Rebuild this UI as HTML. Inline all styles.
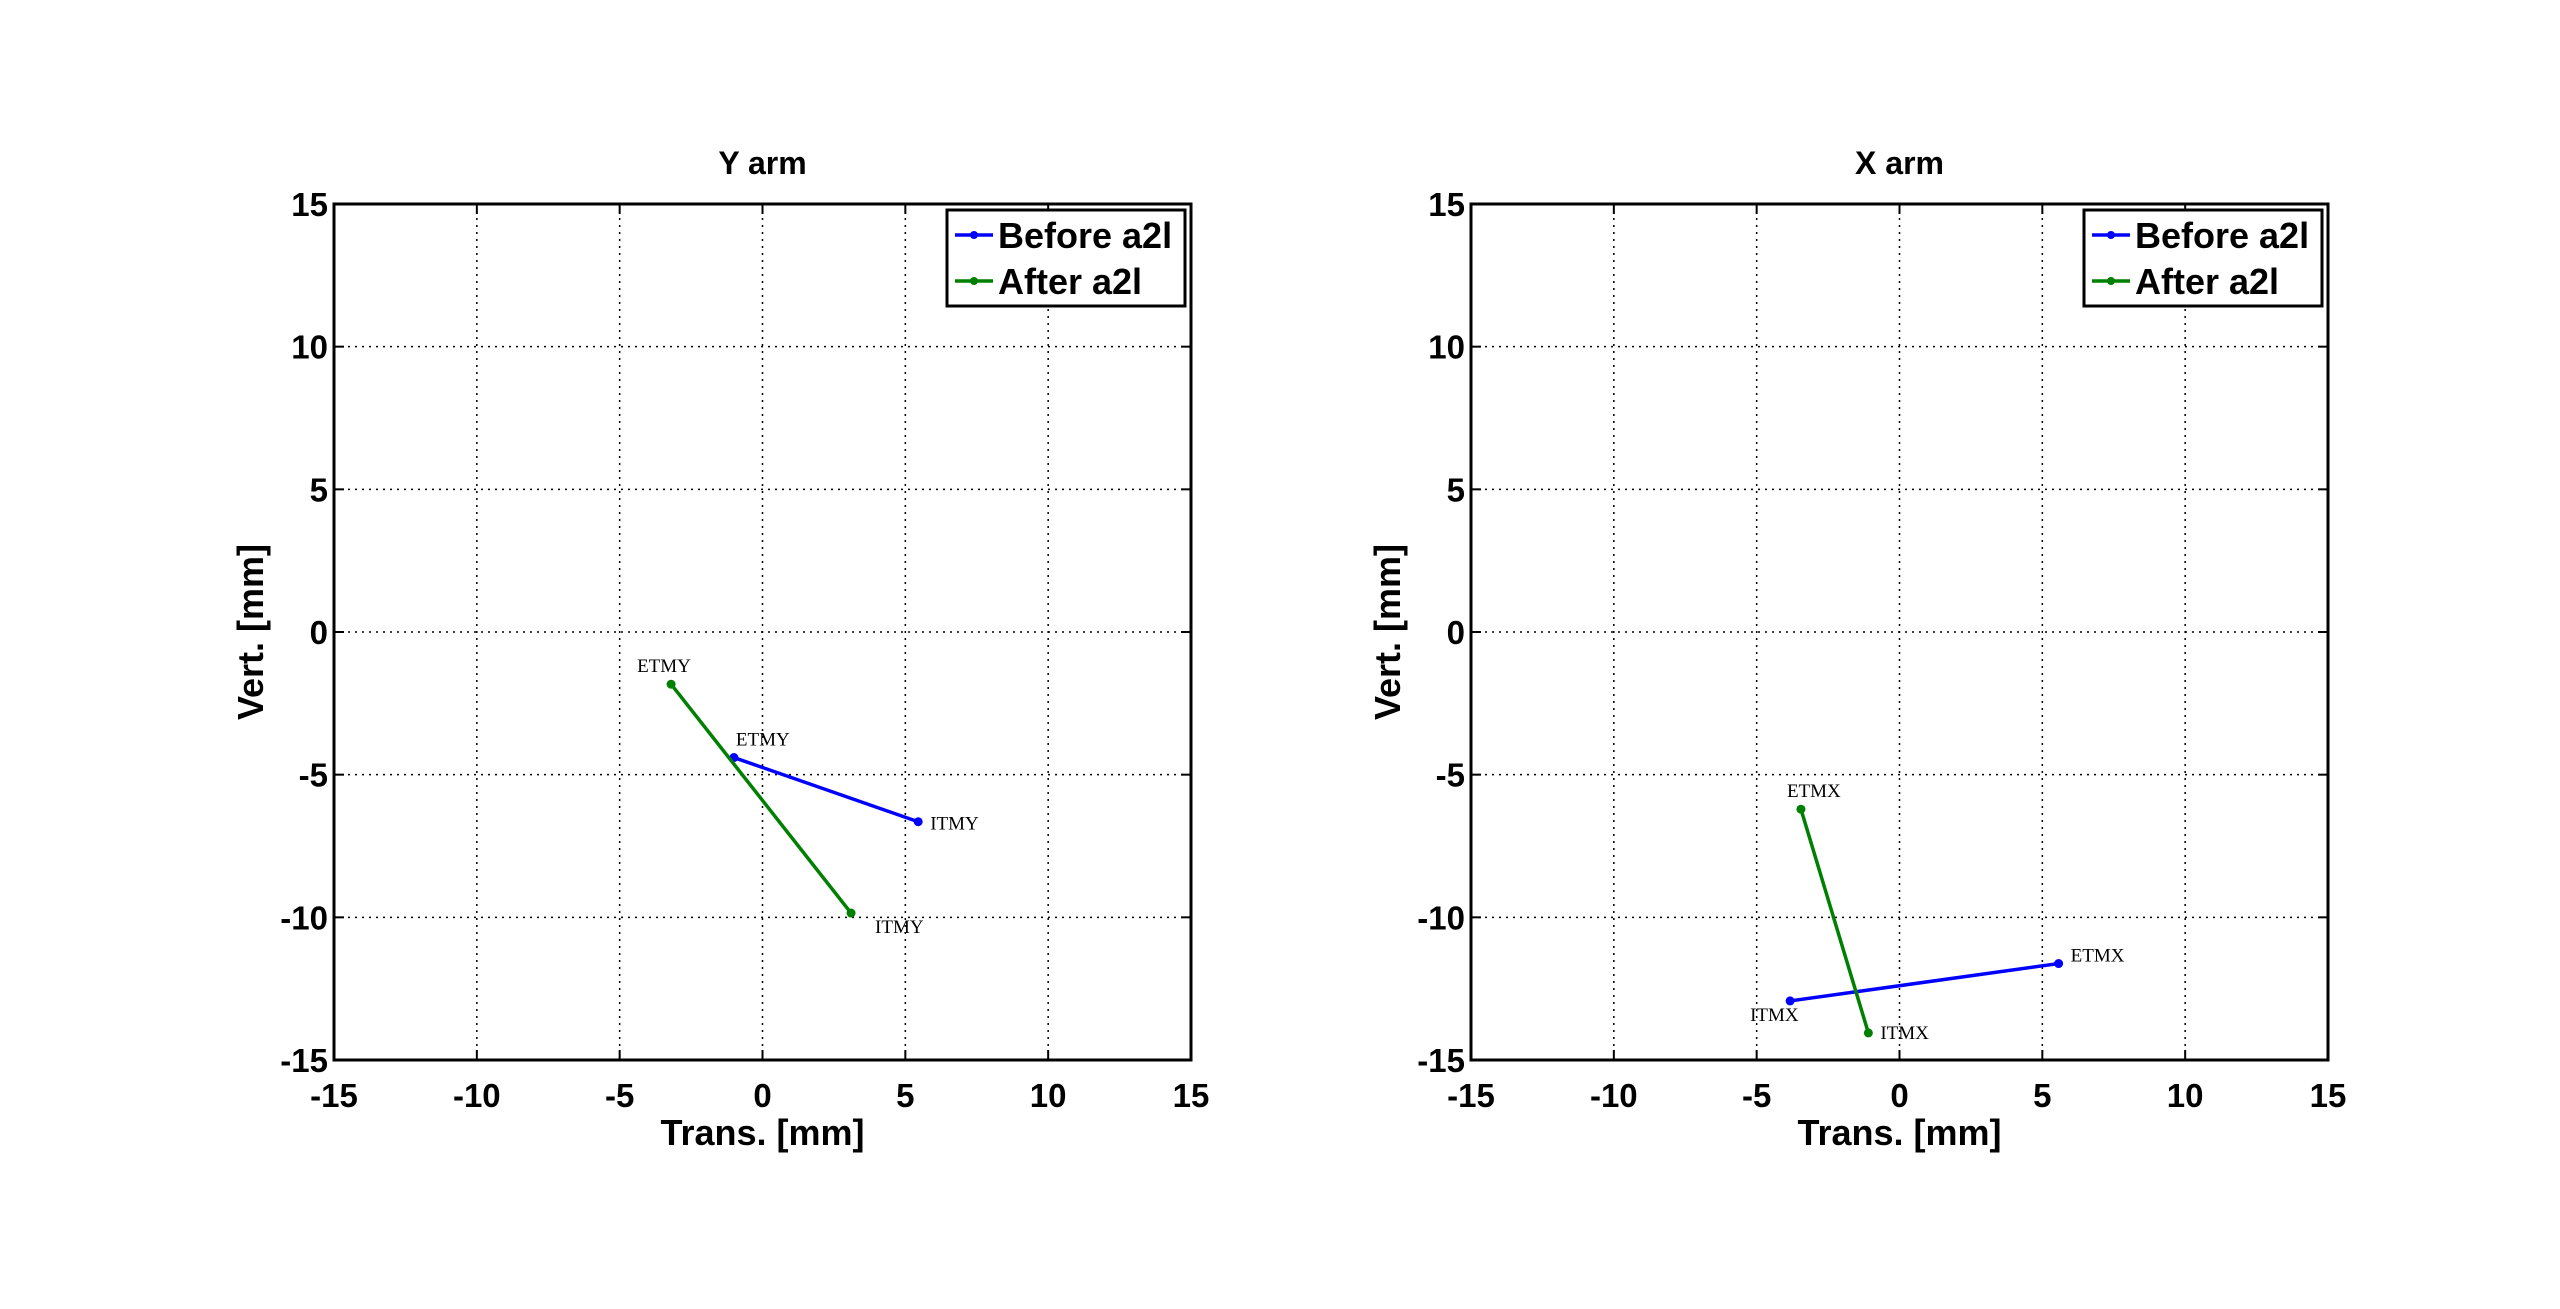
<!DOCTYPE html>
<html><head><meta charset="utf-8"><style>
html,body{margin:0;padding:0;background:#fff;}
svg{display:block;}
text{font-family:"Liberation Sans",sans-serif;}
</style></head><body>
<svg id="fig" width="2560" height="1309" viewBox="0 0 2560 1309" xmlns="http://www.w3.org/2000/svg">
<rect x="0" y="0" width="2560" height="1309" fill="#fff"/>
</svg>
<script>
// ---- data ----
const ticks = [-15, -10, -5, 0, 5, 10, 15];
const tickLabels = ["-15", "-10", "-5", "0", "5", "10", "15"];
const panelTitles = ["Y arm", "X arm"];
const seriesNames = ["Before a2l", "After a2l"];
// Y arm
const yBeforeX = [-1.0, 5.45];
const yBeforeY = [-4.4, -6.65];
const yBeforeLabels = ["ETMY", "ITMY"];
const yAfterX = [-3.2, 3.1];
const yAfterY = [-1.83, -9.85];
const yAfterLabels = ["ETMY", "ITMY"];
// X arm
const xBeforeX = [-3.83, 5.57];
const xBeforeY = [-12.93, -11.62];
const xBeforeLabels = ["ITMX", "ETMX"];
const xAfterX = [-3.45, -1.09];
const xAfterY = [-6.21, -14.05];
const xAfterLabels = ["ETMX", "ITMX"];

const NS = "http://www.w3.org/2000/svg";
const svg = document.getElementById('fig');
function mk(tag, attrs, parent) {
  const e = document.createElementNS(NS, tag);
  for (const k in attrs) e.setAttribute(k, attrs[k]);
  (parent || svg).appendChild(e);
  return e;
}
const colors = ["#0000ff", "#008000"];
// label offsets (styling)
const offs = [
  [[[2, -12], [12, 8]], [[-34, -12], [24, 20]]],
  [[[-40, 20], [12, -2]], [[-14, -12], [12, 6]]]
];
const panels = [
  {left: 334, arm: [[yBeforeX, yBeforeY, yBeforeLabels], [yAfterX, yAfterY, yAfterLabels]], key: "y-arm"},
  {left: 1471, arm: [[xBeforeX, xBeforeY, xBeforeLabels], [xAfterX, xAfterY, xAfterLabels]], key: "x-arm"}
];
const W = 857, TOP = 204, H = 857 - 0; // square-ish
const BOTTOM = 1060;
panels.forEach((p, pi) => {
  const L = p.left, R = L + W;
  const sx = v => L + (v + 15) / 30 * W;
  const sy = v => BOTTOM - (v + 15) / 30 * (BOTTOM - TOP);
  const g = mk('g', {});
  
  
  // grid
  ticks.forEach(t => {
    if (t > -15 && t < 15) {
      const gx = mk('line', {x1: sx(t), x2: sx(t), y1: TOP, y2: BOTTOM, stroke: '#000', 'stroke-width': 1.5, 'stroke-dasharray': '2,5'}, g);
      
      
      const gy = mk('line', {x1: L, x2: R, y1: sy(t), y2: sy(t), stroke: '#000', 'stroke-width': 1.5, 'stroke-dasharray': '2,5'}, g);
      
      
    }
  });
  // ticks and labels
  ticks.forEach((t, i) => {
    mk('line', {x1: sx(t), x2: sx(t), y1: BOTTOM, y2: BOTTOM - 10, stroke: '#000', 'stroke-width': 2}, g);
    mk('line', {x1: sx(t), x2: sx(t), y1: TOP, y2: TOP + 10, stroke: '#000', 'stroke-width': 2}, g);
    mk('line', {x1: L, x2: L + 10, y1: sy(t), y2: sy(t), stroke: '#000', 'stroke-width': 2}, g);
    mk('line', {x1: R, x2: R - 10, y1: sy(t), y2: sy(t), stroke: '#000', 'stroke-width': 2}, g);
    const xt = mk('text', {x: sx(t), y: BOTTOM + 47, 'text-anchor': 'middle', 'font-size': 33, 'font-weight': 'bold'}, g);
    xt.textContent = tickLabels[i];
    
    
    const yt = mk('text', {x: L - 6, y: sy(t) + 12, 'text-anchor': 'end', 'font-size': 33, 'font-weight': 'bold'}, g);
    yt.textContent = tickLabels[i];
    
    
  });
  // series
  p.arm.forEach((s, si) => {
    const [xs, ys, labs] = s;
    const pts = xs.map((x, k) => sx(x) + ',' + sy(ys[k])).join(' ');
    const pl = mk('polyline', {points: pts, fill: 'none', stroke: colors[si], 'stroke-width': 3.5}, g);
    
    
    xs.forEach((x, k) => {
      const c = mk('circle', {cx: sx(x), cy: sy(ys[k]), r: 4.5, fill: colors[si]}, g);
      
      
      const o = offs[pi][si][k];
      const tx = mk('text', {x: sx(x) + o[0], y: sy(ys[k]) + o[1], 'font-size': 19, style: 'font-family:"Liberation Serif",serif'}, g);
      tx.textContent = labs[k];
      
      
    });
  });
  // axes box
  const box = mk('rect', {x: L, y: TOP, width: W, height: BOTTOM - TOP, fill: 'none', stroke: '#000', 'stroke-width': 3}, g);
  
  
  // title
  const tt = mk('text', {x: L + W / 2, y: 174, 'text-anchor': 'middle', 'font-size': 32, 'font-weight': 'bold'}, g);
  tt.textContent = panelTitles[pi];
  
  
  // axis labels
  const xl = mk('text', {x: L + W / 2, y: 1145, 'text-anchor': 'middle', 'font-size': 36, 'font-weight': 'bold'}, g);
  xl.textContent = 'Trans. [mm]';
  
  
  const yx = L - 71, yy = (TOP + BOTTOM) / 2;
  const yl = mk('text', {x: yx, y: yy, 'text-anchor': 'middle', 'font-size': 36, 'font-weight': 'bold', transform: 'rotate(-90 ' + yx + ' ' + yy + ')'}, g);
  yl.textContent = 'Vert. [mm]';
  
  
  // legend
  const lg = mk('g', {}, g);
  
  
  const lx = R - 244, ly = 210;
  mk('rect', {x: lx, y: ly, width: 238, height: 96, fill: '#fff', stroke: '#000', 'stroke-width': 3}, lg);
  seriesNames.forEach((n, si) => {
    const rowY = ly + 25 + si * 46;
    const e = mk('g', {}, lg);
    
    
    mk('line', {x1: lx + 8, x2: lx + 46, y1: rowY, y2: rowY, stroke: colors[si], 'stroke-width': 3.5}, e);
    mk('circle', {cx: lx + 27, cy: rowY, r: 4, fill: colors[si]}, e);
    const t = mk('text', {x: lx + 51, y: rowY + 13, 'font-size': 36, 'font-weight': 'bold'}, e);
    t.textContent = n;
  });
});
</script>
</body></html>
